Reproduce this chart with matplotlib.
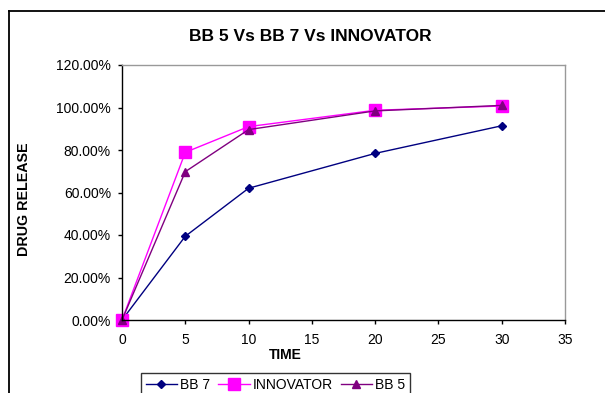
import matplotlib
matplotlib.use("Agg")
import matplotlib.pyplot as plt
from matplotlib.lines import Line2D
from matplotlib.ticker import FuncFormatter

plt.rcParams['font.family'] = ['Liberation Sans', 'DejaVu Sans']

time = [0, 5, 10, 20, 30]
bb7 = [0.0, 39.4, 62.0, 78.4, 91.4]
innovator = [0.0, 78.9, 91.0, 98.7, 100.7]
bb5 = [0.0, 69.8, 89.6, 98.4, 101.0]

W, H = 605, 393
fig = plt.figure(figsize=(W / 100, H / 100), dpi=100)
ax = fig.add_axes([122 / W, 1 - 320 / H, (565 - 122) / W, (320 - 65) / H])

ax.plot(time, bb7, color='#000080', lw=1, marker='D', ms=4.5, label='BB 7')
ax.plot(time, innovator, color='#FF00FF', lw=1, marker='s', ms=8, label='INNOVATOR')
ax.plot(time, bb5, color='#800080', lw=1, marker='^', ms=6, label='BB 5')

ax.set_xlim(0, 35)
ax.set_ylim(0, 120)
ax.set_xticks(range(0, 36, 5))
ax.set_yticks(range(0, 121, 20))
ax.yaxis.set_major_formatter(FuncFormatter(lambda v, p: f"{v:.2f}%"))
ax.tick_params(labelsize=10, length=3, width=1, color='black', direction='out')
ax.tick_params(axis='x', pad=6.5)
ax.tick_params(axis='y', pad=5)
for s in ('top', 'right'):
    ax.spines[s].set_color('#999999')
for s in ('left', 'bottom'):
    ax.spines[s].set_color('black')
for s in ax.spines.values():
    s.set_linewidth(1)
for p in ax.get_lines():
    p.set_clip_on(False)

ax.set_xlabel('TIME', fontsize=10, fontweight='bold')
ax.xaxis.set_label_coords(0.368, -0.111)
ax.set_ylabel('DRUG RELEASE', fontsize=10.3, fontweight='bold')
ax.yaxis.set_label_coords(-0.205, 0.4725)
fig.text(310 / W, 1 - 41 / H, 'BB 5 Vs BB 7 Vs INNOVATOR', fontsize=12.5,
         fontweight='bold', ha='center', va='baseline')

# outer chart-area border
fig.add_artist(Line2D([9 / W, 9 / W], [1 - 10.5 / H, -0.1], color='black', lw=1.3))
fig.add_artist(Line2D([9 / W, 1.1], [1 - 10.5 / H, 1 - 10.5 / H], color='black', lw=1.3))

leg = fig.legend(loc='upper left', bbox_to_anchor=(141 / W, 1 - 373 / H), ncol=3,
                 fontsize=10, frameon=True, fancybox=False, edgecolor='black',
                 handlelength=2.25, handletextpad=0.2, columnspacing=0.6,
                 borderpad=0.35, borderaxespad=0)
leg.get_frame().set_linewidth(1)

fig.savefig('out.png', dpi=100)
